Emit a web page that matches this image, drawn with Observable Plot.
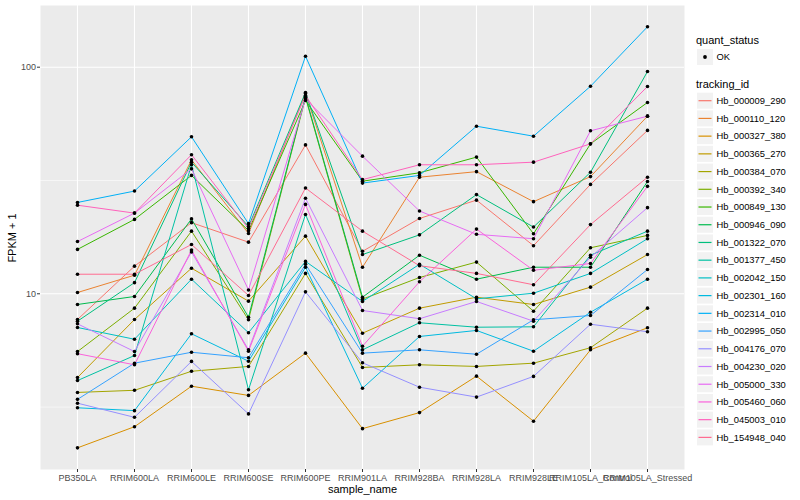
<!DOCTYPE html>
<html><head><meta charset="utf-8">
<script src="https://cdn.jsdelivr.net/npm/d3@7"></script>
<script src="https://cdn.jsdelivr.net/npm/@observablehq/plot@0.6"></script>
<style>
body{margin:0;background:#fff;font-family:"Liberation Sans",Arial,sans-serif;}
#wrap{position:relative;width:800px;height:500px;overflow:hidden;}
.t{position:absolute;white-space:nowrap;color:#000;}
#legend{position:absolute;left:690px;top:0;}
</style></head><body>
<div id="wrap"><div id="chart"></div><svg id="legend" width="110" height="500"></svg>
<div class="t" style="left:328px;top:483px;font-size:11px;">sample_name</div>
<div class="t" style="left:12px;top:238px;font-size:11px;transform:translate(-50%,-50%) rotate(-90deg);">FPKM + 1</div>
</div>
<script>
const samples = ["PB350LA","RRIM600LA","RRIM600LE","RRIM600SE","RRIM600PE","RRIM901LA","RRIM928BA","RRIM928LA","RRIM928LE","RRIM105LA_Control","RRIM105LA_Stressed"];
const trackingIds = ["Hb_000009_290","Hb_000110_120","Hb_000327_380","Hb_000365_270","Hb_000384_070","Hb_000392_340","Hb_000849_130","Hb_000946_090","Hb_001322_070","Hb_001377_450","Hb_002042_150","Hb_002301_160","Hb_002314_010","Hb_002995_050","Hb_004176_070","Hb_004230_020","Hb_005000_330","Hb_005460_060","Hb_045003_010","Hb_154948_040"];
const palette = ["#F8766D","#EA8331","#D89000","#C09B00","#A3A500","#7CAE00","#39B600","#00BB4E","#00BF7D","#00C1A3","#00BFC4","#00BAE0","#00B0F6","#35A2FF","#9590FF","#C77CFF","#E76BF3","#FA62DB","#FF62BC","#FF6C91"];
const yTicks = [10, 100];
const yMinorBreaks = [3.162, 31.62];

// FPKM + 1 per sample (order of samples)
const v_000009_290 = [7.70,13.24,20.6,16.9,45.4,15.4,21.5,25.9,16.3,30.4,52.6];
const v_000110_120 = [10.13,12.08,39.0,18.45,76.5,13.1,32.7,34.6,25.5,32.9,60.8];
const v_000327_380 = [2.09,2.59,3.91,3.56,5.47,2.54,2.99,4.33,2.74,5.66,7.08];
const v_000365_270 = [4.27,7.70,12.97,9.28,17.96,6.70,8.64,9.66,8.97,10.7,14.9];
const v_000384_070 = [3.67,3.75,4.55,4.78,12.3,4.73,4.86,4.78,4.94,5.78,8.64];
const v_000392_340 = [5.56,8.64,18.9,7.68,73.5,9.47,11.8,13.8,8.38,15.96,18.1];
const v_000849_130 = [15.7,21.3,33.3,19.0,71.3,31.4,34.2,40.1,18.4,45.9,69.9];
const v_000946_090 = [8.97,9.73,21.4,7.88,74.3,9.66,14.8,11.6,13.1,13.1,31.3];
const v_001322_070 = [7.57,11.2,38.1,19.8,77.3,14.9,18.2,27.4,19.7,34.4,95.7];
const v_001377_450 = [4.14,5.34,37.1,3.77,22.4,5.66,7.45,7.12,7.15,14.8,18.9];
const v_002042_150 = [7.10,6.30,11.6,6.73,13.9,9.25,13.5,9.50,10.06,12.3,17.5];
const v_002301_160 = [3.14,3.05,6.66,5.04,13.1,3.83,6.48,6.89,5.58,8.29,11.6];
const v_002314_010 = [25.3,28.4,49.3,20.4,111.8,30.8,33.3,54.9,49.6,82.4,150.8];
const v_002995_050 = [3.42,4.94,5.52,5.22,13.5,5.47,5.66,5.41,7.68,8.02,12.8];
const v_004176_070 = [3.29,2.85,5.03,2.95,10.2,4.96,3.87,3.50,4.32,7.34,6.80];
const v_004230_020 = [7.37,5.56,15.3,5.66,26.4,8.44,7.76,9.25,7.57,14.5,24.0];
const v_005000_330 = [17.0,22.7,35.6,10.4,72.5,40.5,23.2,18.3,17.5,52.4,60.8];
const v_005460_060 = [5.44,4.86,15.6,5.58,24.8,5.87,11.3,19.3,12.7,13.6,29.8];
const v_045003_010 = [24.6,22.7,41.1,19.4,75.0,31.9,37.1,37.1,38.1,45.9,82.2];
const v_154948_040 = [12.2,12.2,16.5,9.83,29.3,18.9,13.3,12.3,10.96,20.2,32.7];

const seriesValues = [v_000009_290,v_000110_120,v_000327_380,v_000365_270,v_000384_070,v_000392_340,v_000849_130,v_000946_090,v_001322_070,v_001377_450,v_002042_150,v_002301_160,v_002314_010,v_002995_050,v_004176_070,v_004230_020,v_005000_330,v_005460_060,v_045003_010,v_154948_040];

const rows = trackingIds.flatMap((id, i) => samples.map((s, j) => ({
  tracking_id: id, sample_name: s, fpkm: seriesValues[i][j], quant_status: "OK"
})));

const plot = Plot.plot({
  width: 800, height: 500,
  marginLeft: 40, marginRight: 116, marginTop: 5, marginBottom: 31,
  style: {fontFamily: "'Liberation Sans', Arial, sans-serif", fontSize: "9px", background: "transparent", color: "#4D4D4D"},
  x: {type: "point", domain: samples, padding: 0.6, label: null},
  y: {type: "log", domain: [1.677, 187.2], label: null},
  color: {domain: trackingIds, range: palette},
  marks: [
    Plot.frame({fill: "#EBEBEB", stroke: null}),
    Plot.ruleY(yMinorBreaks, {stroke: "white", strokeWidth: 0.55}),
    Plot.ruleY(yTicks, {stroke: "white", strokeWidth: 1.1}),
    Plot.ruleX(samples, {stroke: "white", strokeWidth: 1.1}),
    Plot.axisX({tickSize: 3, tickPadding: 2, fontSize: 9, stroke: "#333333", fill: "#4D4D4D", label: null}),
    Plot.axisY({ticks: yTicks, tickFormat: d => String(d), tickSize: 3, tickPadding: 1.5, fontSize: 9, stroke: "#333333", fill: "#4D4D4D", label: null}),
    Plot.line(rows, {x: "sample_name", y: "fpkm", z: "tracking_id", stroke: "tracking_id", strokeWidth: 1}),
    Plot.dot(rows, {x: "sample_name", y: "fpkm", r: 1.8, fill: "black", stroke: null})
  ]
});
document.getElementById("chart").appendChild(plot);

// legend (drawn in its own SVG, offset 690px)
const lg = d3.select("#legend").style("font-family", "'Liberation Sans', Arial, sans-serif");
lg.append("text").attr("x", 6).attr("y", 44).attr("font-size", 11).attr("fill", "#000").text("quant_status");
lg.append("rect").attr("x", 7).attr("y", 49).attr("width", 16).attr("height", 16).attr("fill", "#F2F2F2");
lg.append("circle").attr("cx", 15).attr("cy", 57).attr("r", 1.9).attr("fill", "#000");
lg.append("text").attr("x", 26.5).attr("y", 60.3).attr("font-size", 9.4).attr("fill", "#000").text("OK");
lg.append("text").attr("x", 6).attr("y", 88).attr("font-size", 11).attr("fill", "#000").text("tracking_id");
const items = lg.selectAll("g.item").data(trackingIds).join("g")
  .attr("transform", (d, i) => `translate(0,${100.7 + i * 17.72})`);
items.append("rect").attr("x", 7).attr("y", -8).attr("width", 16).attr("height", 16).attr("fill", "#F2F2F2");
items.append("line").attr("x1", 8.5).attr("x2", 21.5).attr("y1", 0).attr("y2", 0)
  .attr("stroke", (d, i) => palette[i]).attr("stroke-width", 1.2);
items.append("text").attr("x", 26.5).attr("y", 3.3).attr("font-size", 9.4).attr("fill", "#000").text(d => d);
</script>
</body></html>
